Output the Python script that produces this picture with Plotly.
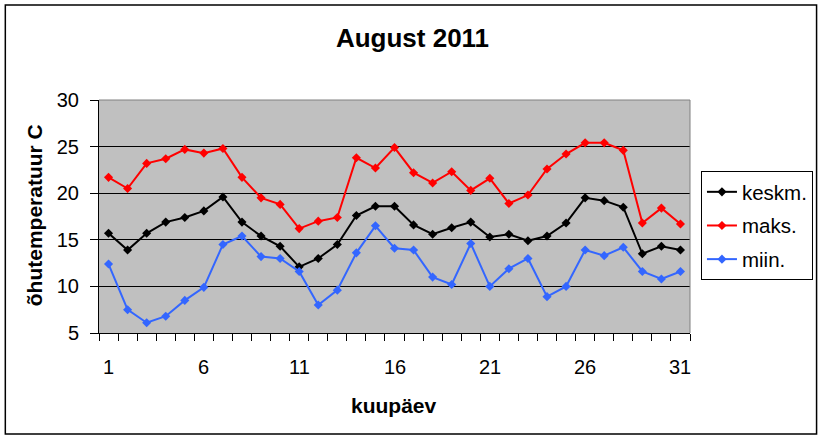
import plotly.graph_objects as go

# August 2011 air temperature, daily values
days = list(range(1, 32))
keskm = [15.7, 13.9, 15.7, 16.9, 17.4, 18.1, 19.6, 16.9, 15.4, 14.3, 12.1, 13.0, 14.5, 17.6, 18.6, 18.6,
         16.6, 15.6, 16.3, 16.9, 15.3, 15.6, 14.9, 15.4, 16.8, 19.5, 19.2, 18.5, 13.5, 14.3, 13.9]
maks = [21.7, 20.5, 23.2, 23.7, 24.7, 24.3, 24.8, 21.7, 19.5, 18.8, 16.2, 17.0, 17.4, 23.8, 22.7, 24.9,
        22.2, 21.1, 22.3, 20.3, 21.6, 18.9, 19.8, 22.6, 24.2, 25.4, 25.4, 24.6, 16.8, 18.4, 16.7]
miin = [12.4, 7.5, 6.1, 6.8, 8.5, 9.9, 14.5, 15.4, 13.2, 13.0, 11.6, 8.0, 9.6, 13.6, 16.5, 14.1,
        13.9, 11.0, 10.2, 14.6, 10.0, 11.9, 13.0, 8.9, 10.0, 13.9, 13.3, 14.2, 11.6, 10.8, 11.6]
xticks = [1, 6, 11, 16, 21, 26, 31]

W, H = 825, 439
L, R, T, B = 99, 692, 100, 333

def px_x(x):
    return (x - L) / (R - L)

def px_y(y):
    return (B - y) / (B - T)

FONT = "Liberation Sans, Arial, sans-serif"

fig = go.Figure()
series = [("keskm.", keskm, "black"), ("maks.", maks, "#ff0000"), ("miin.", miin, "#3366ff")]
for name, vals, col in series:
    fig.add_trace(go.Scatter(x=days, y=vals, name=name, mode="lines+markers",
                             line=dict(color=col, width=2),
                             marker=dict(symbol="diamond", size=7, color=col),
                             legendgroup=name))

# tick marks sit on the boundaries between days, labels only every 5th day
bounds = [d - 0.5 for d in days] + [days[-1] + 0.5]
labels = [str(d) if d in xticks else "" for d in days]

fig.update_layout(
    width=W, height=H,
    margin=dict(l=L, r=W - R, t=T, b=H - B),
    paper_bgcolor="white", plot_bgcolor="#c0c0c0",
    font=dict(family=FONT, size=20, color="black"),
    title=dict(text="<b>August 2011</b>", x=0.5, xref="container", xanchor="center",
               y=1 - 38 / H, yref="container", yanchor="middle", font=dict(size=26)),
    legend=dict(x=px_x(703), y=px_y(171), xanchor="left", yanchor="top",
                bordercolor="black", borderwidth=1, bgcolor="white",
                font=dict(size=20.5), tracegroupgap=4),
    showlegend=True,
    xaxis=dict(range=[0.5, 31.5], tickvals=bounds, ticktext=[""] * len(bounds),
               ticks="outside", ticklen=7, tickcolor="black", tickwidth=1,
               showgrid=False, zeroline=False, showline=True, linecolor="black", linewidth=1),
    yaxis=dict(range=[5, 30], dtick=5, ticks="outside", ticklen=8, tickcolor="black",
               ticklabelstandoff=7, showgrid=True, gridcolor="black", gridwidth=1,
               zeroline=False, showline=True, linecolor="black", linewidth=1),
)

# day labels under the axis
for d, lab in zip(days, labels):
    if lab:
        fig.add_annotation(text=lab, x=d, xref="x", y=px_y(367), yref="paper",
                           xanchor="center", yanchor="middle", showarrow=False,
                           font=dict(size=20))

# gray plot area border at top and right, outer chart frame
fig.add_shape(type="line", xref="paper", yref="paper", x0=0, x1=1, y0=1, y1=1,
              line=dict(color="#808080", width=1), layer="above")
fig.add_shape(type="line", xref="paper", yref="paper", x0=1, x1=1, y0=0, y1=1,
              line=dict(color="#808080", width=1), layer="above")
fig.add_shape(type="rect", xref="paper", yref="paper",
              x0=px_x(5), x1=px_x(819), y0=px_y(434), y1=px_y(5),
              line=dict(color="black", width=1.5), layer="above")

fig.add_annotation(text="<b>kuupäev</b>", xref="paper", yref="paper",
                   x=px_x(395), y=px_y(405), xanchor="center", yanchor="middle",
                   showarrow=False, font=dict(size=21))
fig.add_annotation(text="<b>õhutemperatuur C</b>", xref="paper", yref="paper",
                   x=px_x(34), y=px_y(215), xanchor="center", yanchor="middle",
                   showarrow=False, textangle=-90, font=dict(size=21))

fig.write_html("out.html", config={"displayModeBar": False},
               post_script="document.body.style.margin='0px';")
